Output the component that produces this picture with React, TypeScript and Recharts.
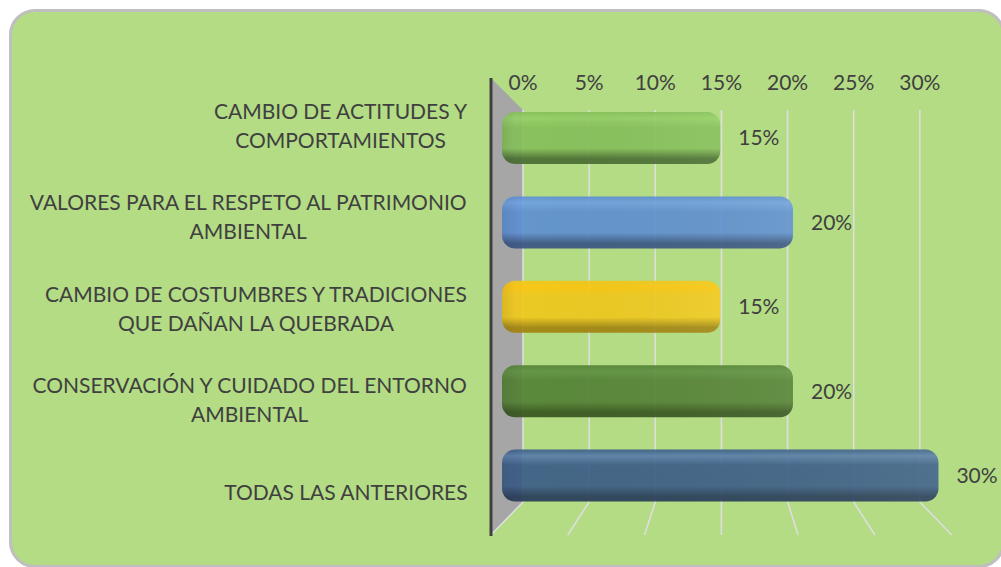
import React from 'react';
import {
  BarChart,
  Bar,
  XAxis,
  YAxis,
  CartesianGrid,
  LabelList,
} from 'recharts';

// Survey answers, top to bottom as drawn.
const categories = [
  'CAMBIO DE ACTITUDES Y COMPORTAMIENTOS',
  'VALORES PARA EL RESPETO AL PATRIMONIO AMBIENTAL',
  'CAMBIO DE COSTUMBRES Y TRADICIONES QUE DAÑAN LA QUEBRADA',
  'CONSERVACIÓN Y CUIDADO DEL ENTORNO AMBIENTAL',
  'TODAS LAS ANTERIORES',
];
// How each label wraps on the axis.
const categoryLines = [
  ['CAMBIO DE ACTITUDES Y', 'COMPORTAMIENTOS'],
  ['VALORES PARA EL RESPETO AL PATRIMONIO', 'AMBIENTAL'],
  ['CAMBIO DE COSTUMBRES Y TRADICIONES', 'QUE DAÑAN LA QUEBRADA'],
  ['CONSERVACIÓN Y CUIDADO DEL ENTORNO', 'AMBIENTAL'],
  ['TODAS LAS ANTERIORES'],
];
const percentages = [15, 20, 15, 20, 30];
const axisTicks = [0, 5, 10, 15, 20, 25, 30];

const data = categories.map((name, i) => ({ name, value: percentages[i] }));

// light / base / dark per bar
const BAR_COLORS = [
  ['#95d066', '#86c05a', '#4a6e32'],
  ['#6fa1e2', '#5e8fd2', '#3a5684'],
  ['#ffc70d', '#f1c91c', '#a38510'],
  ['#5f9140', '#548235', '#37561f'],
  ['#5a7fac', '#3c5e88', '#283d5a'],
];

const TEXT = '#404040';
const FONT = 'Lato, "Open Sans", sans-serif';
const FONT_SIZE = 21;
const LABEL_RIGHT = 468;
const LINE_H = 29;

let measureCtx: CanvasRenderingContext2D | null = null;
function textWidth(s: string): number {
  if (!measureCtx) measureCtx = document.createElement('canvas').getContext('2d');
  if (!measureCtx) return s.length * 11;
  measureCtx.font = `${FONT_SIZE}px Lato`;
  return measureCtx.measureText(s).width;
}

function CategoryTick(props: any) {
  const { y, payload } = props;
  const idx = categories.indexOf(payload.value);
  const lines = categoryLines[idx] || [payload.value];
  const maxW = Math.max(...lines.map(textWidth));
  const cx = LABEL_RIGHT - maxW / 2;
  const y0 = y + 2 - ((lines.length - 1) * LINE_H) / 2;
  return (
    <text textAnchor="middle" fill={TEXT} fontSize={FONT_SIZE} fontFamily={FONT}>
      {lines.map((l, i) => (
        <tspan key={i} x={cx} y={y0 + i * LINE_H} dy="0.35em">
          {l}
        </tspan>
      ))}
    </text>
  );
}

function PercentTick(props: any) {
  const { x, payload } = props;
  return (
    <text x={x} y={83} dy="0.35em" textAnchor="middle" fill={TEXT} fontSize={FONT_SIZE} fontFamily={FONT}>
      {`${payload.value}%`}
    </text>
  );
}

// back wall gridline + the floor diagonal in front of it
function GridLine(props: any) {
  const { x1, index } = props;
  const dx = (x1 - 722) * 0.161;
  return (
    <g key={`g-${index}`}>
      {index === 0 && (
        <polygon points={`492,79 ${x1},110 ${x1},502 492,533`} fill="#a6a6a6" />
      )}
      <line x1={x1} y1={110} x2={x1} y2={502} stroke="#dedede" strokeWidth={1.6} />
      <line x1={x1} y1={502} x2={x1 + dx} y2={535} stroke="#dedede" strokeWidth={1.6} />
    </g>
  );
}

function BarShape(props: any) {
  const { x, y, width, height, index } = props;
  if (!width || width <= 0) return null;
  return (
    <g opacity={0.92}>
      <rect x={x} y={y} width={width} height={height} rx={13} ry={13} fill={`url(#barGrad${index})`} />
      <rect x={x} y={y} width={width} height={height} rx={13} ry={13} fill="url(#barEnd)" />
    </g>
  );
}

export default function App() {
  return (
    <div style={{ position: 'absolute', left: 0, top: 0, width: 1001, height: 567, overflow: 'hidden' }}>
      <div
        style={{
          position: 'absolute',
          boxSizing: 'border-box',
          left: 9,
          top: 9,
          width: 996,
          height: 559,
          border: '3px solid #bfbfbf',
          borderRadius: 26,
          background: '#b3dc84',
        }}
      />
      <div style={{ position: 'absolute', left: 0, top: 0 }}>
        <BarChart
          width={1001}
          height={567}
          data={data}
          layout="vertical"
          margin={{ top: 48, right: 40, bottom: 31, left: 0 }}
        >
          <defs>
            {BAR_COLORS.map(([light, base, dark], i) => (
              <linearGradient key={i} id={`barGrad${i}`} x1="0" y1="0" x2="0" y2="1">
                <stop offset="0%" stopColor={base} />
                <stop offset="12%" stopColor={light} />
                <stop offset="30%" stopColor={base} />
                <stop offset="70%" stopColor={base} />
                <stop offset="90%" stopColor={dark} />
                <stop offset="100%" stopColor={dark} />
              </linearGradient>
            ))}
            <linearGradient id="barEnd" x1="0" y1="0" x2="1" y2="0">
              <stop offset="0%" stopColor="#000" stopOpacity={0.08} />
              <stop offset="6%" stopColor="#000" stopOpacity={0} />
              <stop offset="100%" stopColor="#fff" stopOpacity={0.06} />
            </linearGradient>
          </defs>
          <CartesianGrid
            xAxisId="grid"
            yAxisId="labels"
            horizontal={false}
            vertical={GridLine}
            syncWithTicks
          />
          <XAxis
            xAxisId="grid"
            type="number"
            orientation="top"
            height={30}
            domain={[-2.419, 33.11]}
            ticks={axisTicks}
            allowDataOverflow
            axisLine={false}
            tickLine={false}
            tick={PercentTick}
            interval={0}
          />
          <XAxis xAxisId="bars" type="number" domain={[-0.756, 31.55]} allowDataOverflow hide />
          <YAxis
            yAxisId="labels"
            type="category"
            dataKey="name"
            width={491}
            axisLine={{ stroke: '#404040', strokeWidth: 3 }}
            tickLine={false}
            tick={CategoryTick}
            interval={0}
          />
          <YAxis
            yAxisId="bars"
            type="category"
            dataKey="name"
            orientation="right"
            width={0}
            hide
            padding={{ top: 18, bottom: 18 }}
          />
          <Bar
            dataKey="value"
            xAxisId="bars"
            yAxisId="bars"
            barSize={52}
            shape={BarShape}
            isAnimationActive={false}
          >
            <LabelList
              dataKey="value"
              position="right"
              offset={18}
              formatter={(v: any) => `${v}%`}
              fill={TEXT}
              fontSize={FONT_SIZE}
              fontFamily={FONT}
            />
          </Bar>
        </BarChart>
      </div>
    </div>
  );
}
